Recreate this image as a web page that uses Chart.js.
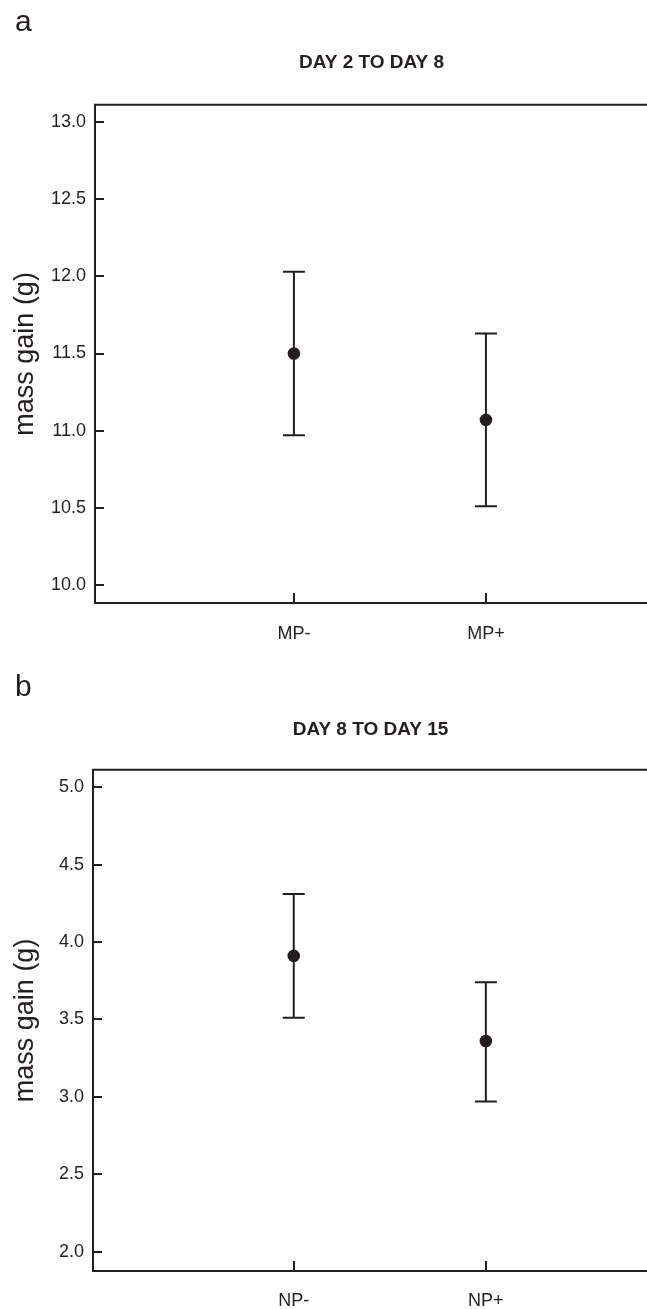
<!DOCTYPE html>
<html lang="en">
<head>
  <meta charset="UTF-8" />
  <title>Mass gain by period</title>
  <script src="https://cdn.jsdelivr.net/npm/chart.js"></script>
  <style>
    * { margin: 0; padding: 0; box-sizing: border-box; }
    html, body {
      width: 647px;
      height: 1309px;
      overflow: hidden;
      background: #fff;
      font-family: 'Liberation Sans', Arial, sans-serif;
      color: #231f20;
    }
    .panel { position: absolute; left: 0; width: 660px; }
    .panel canvas { display: block; }
    /* panel letters */
    .tag { position: absolute; left: 15px; font-size: 30px; line-height: 30px; }
  </style>
</head>
<body>
  <div class="panel" style="top:0;height:654px;"><canvas id="chartA"></canvas></div>
  <div class="panel" style="top:654px;height:655px;"><canvas id="chartB"></canvas></div>
  <div class="tag" style="top:6px;">a</div>
  <div class="tag" style="top:671px;">b</div>

  <script>
    // ---- data ----
    const groupsA = ['MP-', 'MP+'];
    const meanA = [11.50, 11.07];
    const lowA = [10.97, 10.51];
    const highA = [12.03, 11.63];
    const yTicksA = [10.0, 10.5, 11.0, 11.5, 12.0, 12.5, 13.0];

    const groupsB = ['NP-', 'NP+'];
    const meanB = [3.91, 3.36];
    const lowB = [3.51, 2.97];
    const highB = [4.31, 3.74];
    const yTicksB = [2.0, 2.5, 3.0, 3.5, 4.0, 4.5, 5.0];

    const INK = '#231f20';
    const FONT = "'Liberation Sans', Arial, sans-serif";

    // error bars with caps, drawn through the chart's scales
    const whiskers = {
      id: 'whiskers',
      beforeDatasetsDraw(chart, args, opts) {
        const { ctx, scales: { x, y } } = chart;
        ctx.save();
        ctx.strokeStyle = INK;
        ctx.lineWidth = 2;
        opts.low.forEach((lo, i) => {
          const px = x.getPixelForValue(i + 1);
          const top = y.getPixelForValue(opts.high[i]);
          const bot = y.getPixelForValue(lo);
          ctx.beginPath();
          ctx.moveTo(px, top); ctx.lineTo(px, bot);
          ctx.moveTo(px - 11, top); ctx.lineTo(px + 11, top);
          ctx.moveTo(px - 11, bot); ctx.lineTo(px + 11, bot);
          ctx.stroke();
        });
        ctx.restore();
      }
    };

    // top frame line + tick marks pointing into the plot
    const frame = {
      id: 'frame',
      afterDraw(chart) {
        const { ctx, chartArea: a, scales: { x, y } } = chart;
        ctx.save();
        ctx.strokeStyle = INK;
        ctx.lineWidth = 2;
        ctx.beginPath();
        ctx.moveTo(a.left - 1, a.top); ctx.lineTo(a.right + 2, a.top);
        y.ticks.forEach(t => {
          const py = Math.round(y.getPixelForValue(t.value));
          ctx.moveTo(a.left, py); ctx.lineTo(a.left + 9, py);
        });
        x.ticks.forEach(t => {
          const px = Math.round(x.getPixelForValue(t.value));
          ctx.moveTo(px, a.bottom); ctx.lineTo(px, a.bottom - 10);
        });
        ctx.stroke();
        ctx.restore();
      }
    };

    function makePanel(id, cfg) {
      return new Chart(document.getElementById(id), {
        type: 'scatter',
        data: {
          datasets: [{
            data: cfg.means.map((m, i) => ({ x: i + 1, y: m })),
            pointRadius: 6.3,
            pointHoverRadius: 6.3,
            backgroundColor: INK,
            borderWidth: 0,
            showLine: false
          }]
        },
        plugins: [whiskers, frame],
        options: {
          responsive: true,
          maintainAspectRatio: false,
          animation: false,
          layout: { padding: { left: 0, right: 12, top: 0, bottom: 0 } },
          plugins: {
            legend: { display: false },
            tooltip: { enabled: false },
            title: {
              display: true,
              text: cfg.title,
              color: INK,
              fullSize: false,
              font: { family: FONT, size: 19, weight: 'bold' },
              padding: cfg.titlePad
            },
            whiskers: { low: cfg.low, high: cfg.high }
          },
          scales: {
            x: {
              type: 'linear',
              min: cfg.xMin,
              max: 2.844,
              afterBuildTicks: s => { s.ticks = cfg.groups.map((g, i) => ({ value: i + 1 })); },
              afterFit: s => { s.height = cfg.xHeight; },
              ticks: {
                autoSkip: false,
                maxRotation: 0,
                padding: cfg.xPad,
                color: INK,
                font: { family: FONT, size: 18 },
                callback: v => cfg.groups[v - 1]
              },
              grid: { display: false, drawTicks: false },
              border: { display: true, color: INK, width: 2 }
            },
            y: {
              min: cfg.yMin,
              max: cfg.yMax,
              afterBuildTicks: s => { s.ticks = cfg.yTicks.map(v => ({ value: v })); },
              afterFit: s => { s.width = cfg.yWidth; },
              ticks: {
                padding: 9,
                color: INK,
                font: { family: FONT, size: 18 },
                callback: v => Number(v).toFixed(1)
              },
              grid: { display: false, drawTicks: false },
              border: { display: true, color: INK, width: 2 },
              title: {
                display: true,
                text: 'mass gain (g)',
                color: INK,
                font: { family: FONT, size: 27 },
                padding: { top: 9, bottom: 0 }
              }
            }
          }
        }
      });
    }

    makePanel('chartA', {
      title: 'DAY 2 TO DAY 8',
      groups: groupsA, means: meanA, low: lowA, high: highA, yTicks: yTicksA,
      yMin: 9.883, yMax: 13.112, xMin: -0.036,
      yWidth: 95, xHeight: 51, xPad: 20,
      titlePad: { top: 51, bottom: 31 }
    });

    makePanel('chartB', {
      title: 'DAY 8 TO DAY 15',
      groups: groupsB, means: meanB, low: lowB, high: highB, yTicks: yTicksB,
      yMin: 1.875, yMax: 5.112, xMin: -0.045,
      yWidth: 93, xHeight: 38, xPad: 19,
      titlePad: { top: 64, bottom: 29 }
    });
  </script>
</body>
</html>
